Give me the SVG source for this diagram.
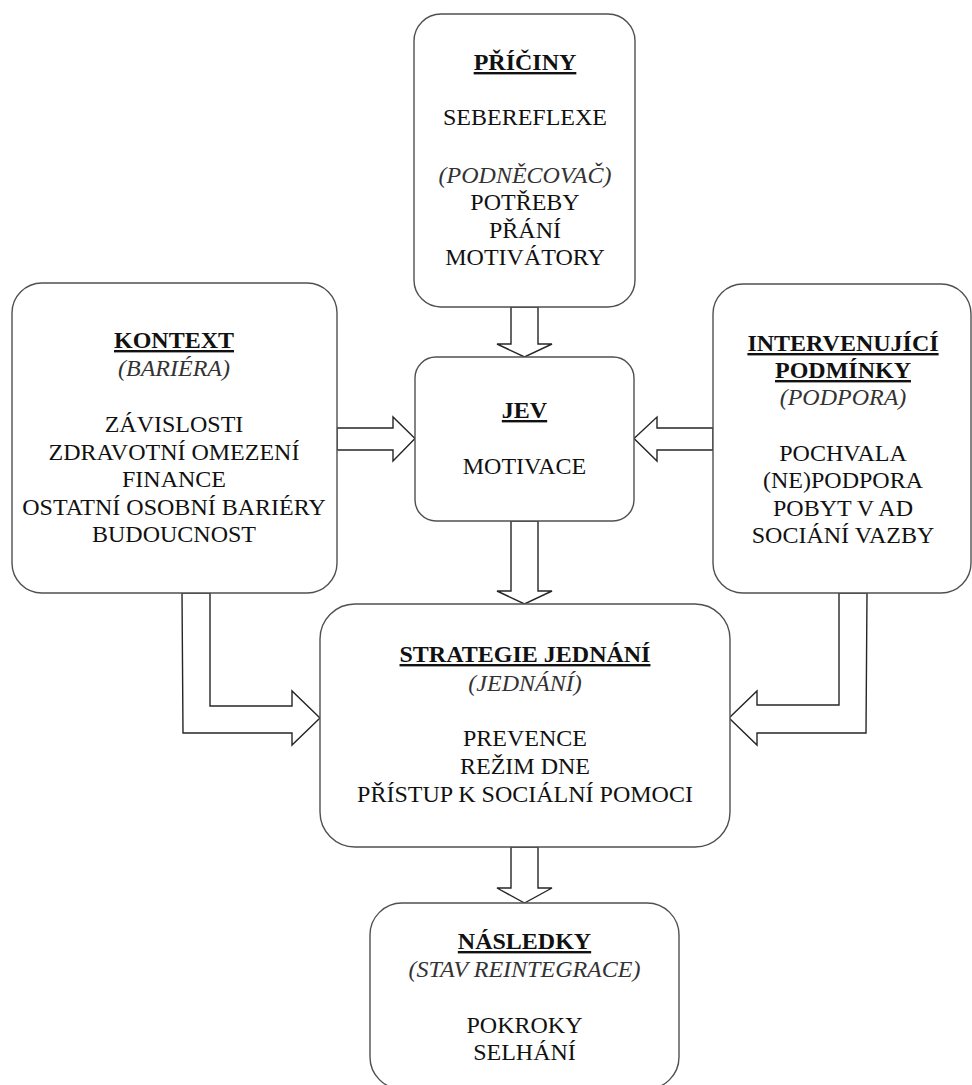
<svg xmlns="http://www.w3.org/2000/svg" width="972" height="1085" viewBox="0 0 972 1085" font-family="'Liberation Serif', 'DejaVu Serif', serif">
<style>
.box{fill:#fff;stroke:#505050;stroke-width:1.4}
.arr{fill:#fff;stroke:#262626;stroke-width:1.4;stroke-linejoin:miter}
.t{font-family:'Liberation Serif','DejaVu Serif',serif;font-size:24px;fill:#111;text-anchor:middle}
.h{font-weight:bold;text-decoration:underline}
.i{font-style:italic;fill:#333}
</style>
<rect width="972" height="1085" fill="#fff"/>
<g id="connectors">
<polygon class="arr" points="511,307 538,307 538,344 552,344 524.5,357 497,344 511,344"/>
<polygon class="arr" points="337,428 393,428 393,417 415,438.5 393,461 393,450 337,450"/>
<polygon class="arr" points="713,428 657,428 657,417 634,438.5 657,461 657,450 713,450"/>
<polygon class="arr" points="511,521 538,521 538,591 552,591 524.5,604 497,591 511,591"/>
<polygon class="arr" points="511,847 538,847 538,888 552,888 524.5,903 497,888 511,888"/>
<polygon class="arr" points="182,593 210,593 210,706 292,706 292,691 320,718 292,745 292,733 183,733"/>
<polygon class="arr" points="867,593 839,593 839,705 757,705 757,691 729,718 757,745 757,733 866,733"/>
</g>
<g id="priciny">
<rect class="box" x="414" y="14" width="221" height="293" rx="27"/>
<text class="t h" x="525" y="70">PŘÍČINY</text>
<text class="t" x="525" y="125">SEBEREFLEXE</text>
<text class="t i" x="525" y="183">(PODNĚCOVAČ)</text>
<text class="t" x="525" y="210">POTŘEBY</text>
<text class="t" x="525" y="238">PŘÁNÍ</text>
<text class="t" x="525" y="265">MOTIVÁTORY</text>
</g>
<g id="kontext">
<rect class="box" x="12" y="283" width="325" height="310" rx="30"/>
<text class="t h" x="174" y="348">KONTEXT</text>
<text class="t i" x="174" y="376">(BARIÉRA)</text>
<text class="t" x="174" y="432">ZÁVISLOSTI</text>
<text class="t" x="174" y="460">ZDRAVOTNÍ OMEZENÍ</text>
<text class="t" x="174" y="487">FINANCE</text>
<text class="t" x="174" y="515">OSTATNÍ OSOBNÍ BARIÉRY</text>
<text class="t" x="174" y="542">BUDOUCNOST</text>
</g>
<g id="intervenujici">
<rect class="box" x="713" y="284" width="258" height="309" rx="30"/>
<text class="t h" x="843" y="351">INTERVENUJÍCÍ</text>
<text class="t h" x="843" y="378">PODMÍNKY</text>
<text class="t i" x="843" y="405">(PODPORA)</text>
<text class="t" x="843" y="461">POCHVALA</text>
<text class="t" x="843" y="488">(NE)PODPORA</text>
<text class="t" x="843" y="516">POBYT V AD</text>
<text class="t" x="843" y="543">SOCIÁNÍ VAZBY</text>
</g>
<g id="jev">
<rect class="box" x="415" y="357" width="219" height="164" rx="21"/>
<text class="t h" x="524.5" y="418">JEV</text>
<text class="t" x="524.5" y="474">MOTIVACE</text>
</g>
<g id="strategie">
<rect class="box" x="320" y="604" width="410" height="243" rx="35"/>
<text class="t h" x="525" y="662">STRATEGIE JEDNÁNÍ</text>
<text class="t i" x="525" y="691">(JEDNÁNÍ)</text>
<text class="t" x="525" y="746">PREVENCE</text>
<text class="t" x="525" y="774">REŽIM DNE</text>
<text class="t" x="525" y="802">PŘÍSTUP K SOCIÁLNÍ POMOCI</text>
</g>
<g id="nasledky">
<rect class="box" x="370" y="903" width="309" height="186" rx="32"/>
<text class="t h" x="524.5" y="949">NÁSLEDKY</text>
<text class="t i" x="524.5" y="977">(STAV REINTEGRACE)</text>
<text class="t" x="524.5" y="1033">POKROKY</text>
<text class="t" x="524.5" y="1060">SELHÁNÍ</text>
</g>
</svg>
